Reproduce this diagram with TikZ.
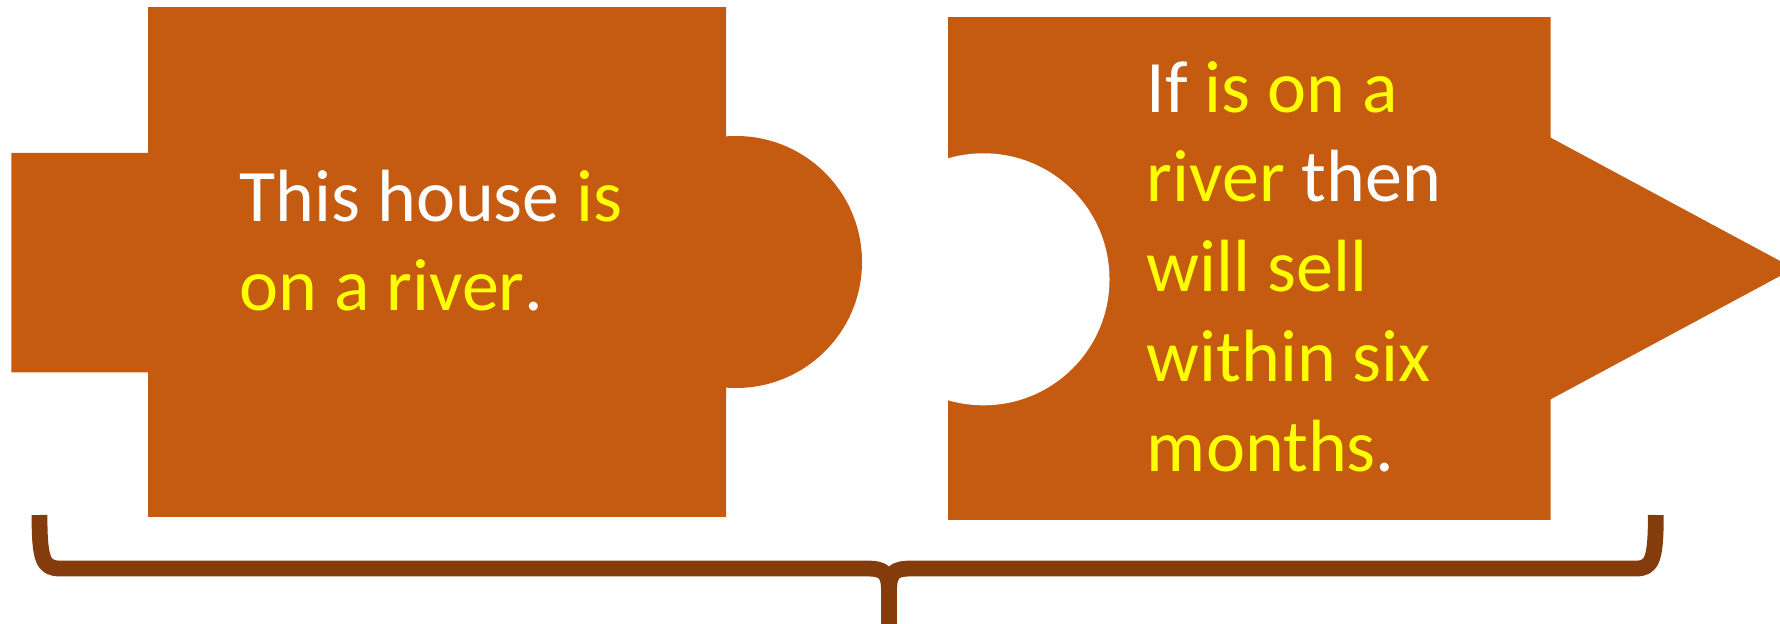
\documentclass[tikz,border=0pt]{standalone}
\usepackage{fontspec}
\setmainfont{Carlito}
\usepackage{tikz}
\usetikzlibrary{calc,positioning}
\definecolor{puzzle}{HTML}{C55A11}
\definecolor{bracebrown}{HTML}{843C0C}
\definecolor{hl}{HTML}{FFFF00}
\newcommand{\hl}[1]{\textcolor{hl}{#1}}
\tikzset{
  piece/.style={fill=puzzle, draw=none},
  hole/.style={fill=white, draw=none},
  brace/.style={draw=bracebrown, line width=7.9pt, line cap=butt, line join=round},
  note/.style={text=white, inner sep=0pt, align=left, font=\fontsize{37}{44.85}\selectfont}
}
\begin{document}
\begin{tikzpicture}[x=0.5pt, y=-0.5pt]
  \useasboundingbox (0,0) rectangle (1780,624);
  \fill[piece] (948,17.1) -- (1550.7,17.1) -- (1550.7,137.7) -- (1794,268.5) -- (1550.7,399.3) -- (1550.7,519.9) -- (948,519.9) -- cycle;
  \begin{scope}
    \clip (948,17.1) rectangle (1550.7,519.9);
    \fill[hole] (983.5,279.3) circle (126);
  \end{scope}
  \fill[piece] (11.4,152.9) -- (148,152.9) -- (148,7.2) -- (726.2,7.2) -- (726.2,516.9) -- (148,516.9) -- (148,372.4) -- (11.4,372.4) -- cycle;
  \fill[piece] (736,262) circle (126);
  \node[note, anchor=base west] (house) at (239.4,311) {This house \hl{is}\\\hl{on a river}.};
  \node[note, anchor=base west] (rule) at (1146.5,471) {If \hl{is on a}\\\hl{river} then\\\hl{will sell}\\\hl{within six}\\\hl{months}.};
  \draw[brace] (39.5,515) .. controls (39.5,560) and (43,568.5) .. (60,568.5) -- (866,568.5) .. controls (884,568.5) and (889,572) .. (889,592) -- (889,626);
  \draw[brace] (1655.8,515) .. controls (1655.8,560) and (1652,568.5) .. (1636,568.5) -- (912,568.5) .. controls (894,568.5) and (889,572) .. (889,592) -- (889,626);
\end{tikzpicture}
\end{document}
